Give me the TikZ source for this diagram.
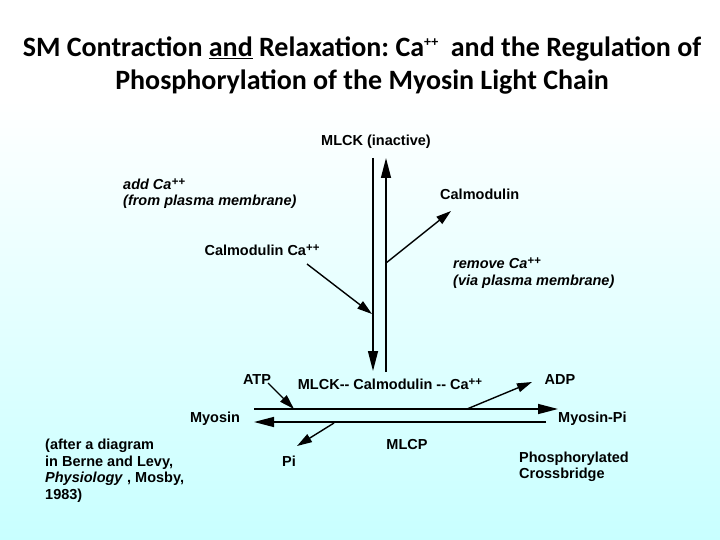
\documentclass[tikz,border=0pt]{standalone}
\usepackage{fontspec}
\setmainfont{Liberation Sans}
\newfontfamily\titlefont{Carlito}
\usetikzlibrary{arrows.meta, positioning}
\frenchspacing
\definecolor{bgcyan}{RGB}{200,255,255}
\tikzstyle{txt} = [inner sep=0pt, font=\fontsize{14.5}{16.5}\selectfont\bfseries, align=left]
\tikzstyle{note} = [txt, font=\fontsize{14.5}{16.5}\selectfont\bfseries\itshape]
\tikzstyle{arrow} = [line width=1.4pt, ->, >={Triangle[length=20pt,width=10pt]}]
\tikzstyle{smallarrow} = [line width=1.4pt, ->, >={Triangle[length=15pt,width=9pt]}]
\newcommand{\cappp}{Ca\raisebox{0.55ex}{\fontsize{11.5}{11.5}\selectfont ++}}

\begin{document}
\begin{tikzpicture}[x=1pt, y=-1pt]
        \useasboundingbox (0,0) rectangle (720,540);
        \fill[white] (0,0) rectangle (720,100);
        \fill[top color=white, bottom color=bgcyan] (0,100) rectangle (720,540);

        \node[inner sep=0pt, align=center, font=\titlefont\fontsize{28}{33}\selectfont\bfseries] (title) at (362,66)
            {SM Contraction \underline{and} Relaxation: Ca\raisebox{0.8ex}{\fontsize{14}{14}\selectfont ++}\ \ and the Regulation of\\
             Phosphorylation of the Myosin Light Chain};

        \node[txt] (inactive) at (376,142) {MLCK (inactive)};
        \node[note, anchor=west] (addca) at (123,193.5) {add \cappp\\(from plasma membrane)};
        \node[txt, anchor=west] (calmod) at (440,194) {Calmodulin};
        \node[txt] (calca) at (262,250) {Calmodulin \cappp};
        \node[note, anchor=west] (removeca) at (453,273) {remove \cappp\\(via plasma membrane)};
        \node[txt] (atp) at (257,380) {ATP};
        \node[txt] (complex) at (390,384) {MLCK-{}- Calmodulin -{}- \cappp};
        \node[txt] (adp) at (560,380) {ADP};
        \node[txt] (myosin) at (215,419) {Myosin};
        \node[txt, anchor=west] (myosinpi) at (558,419) {Myosin-Pi};
        \node[txt] (mlcp) at (407,445) {MLCP};
        \node[txt] (pi) at (289,461) {Pi};
        \node[txt, anchor=west] (crossbridge) at (519,467) {Phosphorylated\\Crossbridge};
        \node[txt, anchor=west] (source) at (45,470.5)
            {(after a diagram\\in Berne and Levy,\\\textit{Physiology} , Mosby,\\1983)};

        \coordinate (down top) at (373,158);
        \coordinate (down end) at (373,371);
        \coordinate (up start) at (386,372);
        \coordinate (up end) at (386,158);
        \coordinate (release) at (386,263);
        \coordinate (calmod tip) at (451,211);
        \coordinate (bind start) at (307,264);
        \coordinate (bind tip) at (372,314);
        \coordinate (atp start) at (268,383);
        \coordinate (atp tip) at (294,409);
        \coordinate (adp start) at (467,409);
        \coordinate (adp tip) at (532,382);
        \coordinate (fwd start) at (254,409);
        \coordinate (fwd end) at (558,409);
        \coordinate (back start) at (546,422);
        \coordinate (back end) at (254,422);
        \coordinate (pi start) at (334,423);
        \coordinate (pi tip) at (297,446);

        \draw[arrow] (down top) -- (down end);
        \draw[arrow] (up start) -- (up end);
        \draw[smallarrow] (release) -- (calmod tip);
        \draw[smallarrow] (bind start) -- (bind tip);
        \draw[arrow] (fwd start) -- (fwd end);
        \draw[arrow] (back start) -- (back end);
        \draw[smallarrow] (atp start) -- (atp tip);
        \draw[smallarrow] (adp start) -- (adp tip);
        \draw[smallarrow] (pi start) -- (pi tip);
    \end{tikzpicture}
\end{document}
